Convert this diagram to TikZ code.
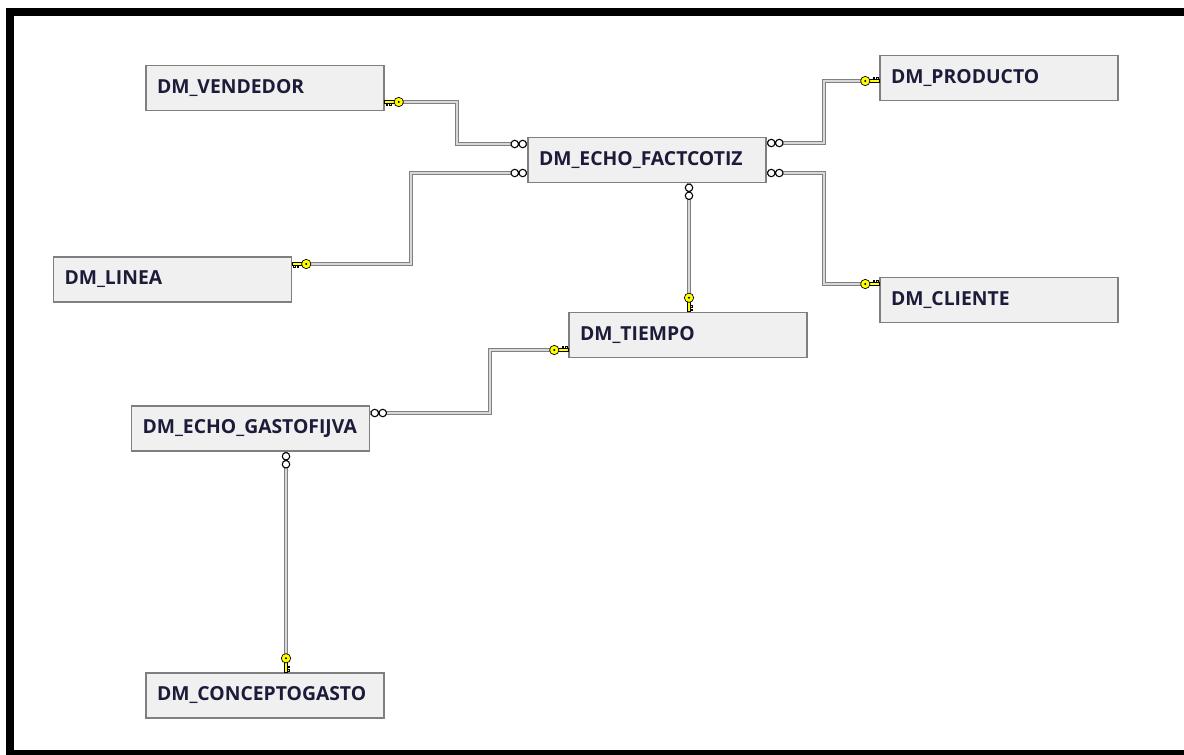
\documentclass[tikz,border=0pt]{standalone}
\usepackage{fontspec}
\setmainfont{Open Sans}
\usepackage{tikz}
\usetikzlibrary{positioning, calc}
\definecolor{tblFill}{HTML}{F0F0F0}
\definecolor{tblEdge}{HTML}{7F7F7F}
\definecolor{tblText}{HTML}{1C1C3A}
\definecolor{relEdge}{HTML}{808080}
\definecolor{relInner}{HTML}{D8D8D8}
\definecolor{keyYellow}{HTML}{FFFF00}

\tikzset{
    fkey/.pic={
        \filldraw[fill=keyYellow, line width=0.5pt] (0pt,-1.2pt) rectangle (7.5pt,1.2pt);
        \filldraw[fill=keyYellow, line width=0.5pt] (1pt,-1.2pt) rectangle (2.2pt,-2.8pt) (3.6pt,-1.2pt) rectangle (4.8pt,-2.8pt);
        \filldraw[fill=keyYellow, line width=0.5pt] (10.5pt,0pt) circle (3.5pt);
        \fill (10.5pt,0pt) circle (0.9pt);
    },
    many/.pic={
        \filldraw[fill=white, line width=0.8pt] (3.4pt,0pt) circle (2.8pt) (9.4pt,0pt) circle (2.8pt);
    },
}

\begin{document}
\begin{tikzpicture}[
    x=0.75pt, y=-0.75pt,
    tbl/.style={draw=tblEdge, fill=tblFill, line width=1.1pt, minimum height=33.75pt, text width=162pt, align=left, inner xsep=8.25pt, inner ysep=0pt, font=\fontsize{14.5}{16}\selectfont\bfseries, text=tblText},
    rel/.style={draw=relEdge, double=relInner, line width=0.9pt, double distance=1.9pt},
]
\useasboundingbox (0,0) rectangle (1184,754);
\draw[line width=6pt] (1200,12) -- (10,12) -- (10,754) -- (1200,754);

\node[tbl] (vendedor) at (265,88) {DM\_VENDEDOR};
\node[tbl] (fact) at (647,160) {DM\_ECHO\_FACTCOTIZ};
\node[tbl] (producto) at (999,78) {DM\_PRODUCTO};
\node[tbl] (linea) at (172.5,279.5) {DM\_LINEA};
\node[tbl] (cliente) at (999,300) {DM\_CLIENTE};
\node[tbl] (tiempo) at (688,335) {DM\_TIEMPO};
\node[tbl] (gasto) at (250.5,428.5) {DM\_ECHO\_GASTOFIJVA};
\node[tbl] (concepto) at (265,695.5) {DM\_CONCEPTOGASTO};

% relationship end points
\coordinate (vK) at ($(vendedor.east)+(0,14)$);
\coordinate (vM) at ($(fact.west)+(0,-16)$);
\coordinate (lK) at ($(linea.east)+(0,-15.5)$);
\coordinate (lM) at ($(fact.west)+(0,13)$);
\coordinate (pM) at ($(fact.east)+(0,-17)$);
\coordinate (pK) at ($(producto.west)+(0,3)$);
\coordinate (cM) at ($(fact.east)+(0,13)$);
\coordinate (cK) at ($(cliente.west)+(0,-16)$);
\coordinate (tM) at ($(fact.south)+(42,0)$);
\coordinate (tK) at ($(tiempo.north)+(1,0)$);
\coordinate (gM) at ($(gasto.east)+(0,-15.5)$);
\coordinate (gK) at ($(tiempo.west)+(0,15)$);
\coordinate (kM) at ($(gasto.south)+(35.5,0)$);
\coordinate (kK) at ($(concepto.north)+(21,0)$);

\draw[rel] (vK) -| (457,144) -- (vM);
\draw[rel] (lK) -| (411,173) -- (lM);
\draw[rel] (pM) -| (824,81) -- (pK);
\draw[rel] (cM) -| (824,284) -- (cK);
\draw[rel] (tM) -- (tK);
\draw[rel] (gM) -| (490,350) -- (gK);
\draw[rel] (kM) -- (kK);

\pic at (vK) {fkey};
\pic at (lK) {fkey};
\pic[rotate=180] at (pK) {fkey};
\pic[rotate=180] at (cK) {fkey};
\pic[rotate=90] at (tK) {fkey};
\pic[rotate=180] at (gK) {fkey};
\pic[rotate=90] at (kK) {fkey};

\pic[rotate=180] at (vM) {many};
\pic[rotate=180] at (lM) {many};
\pic at (pM) {many};
\pic at (cM) {many};
\pic[rotate=-90] at (tM) {many};
\pic at (gM) {many};
\pic[rotate=-90] at (kM) {many};
\end{tikzpicture}
\end{document}
